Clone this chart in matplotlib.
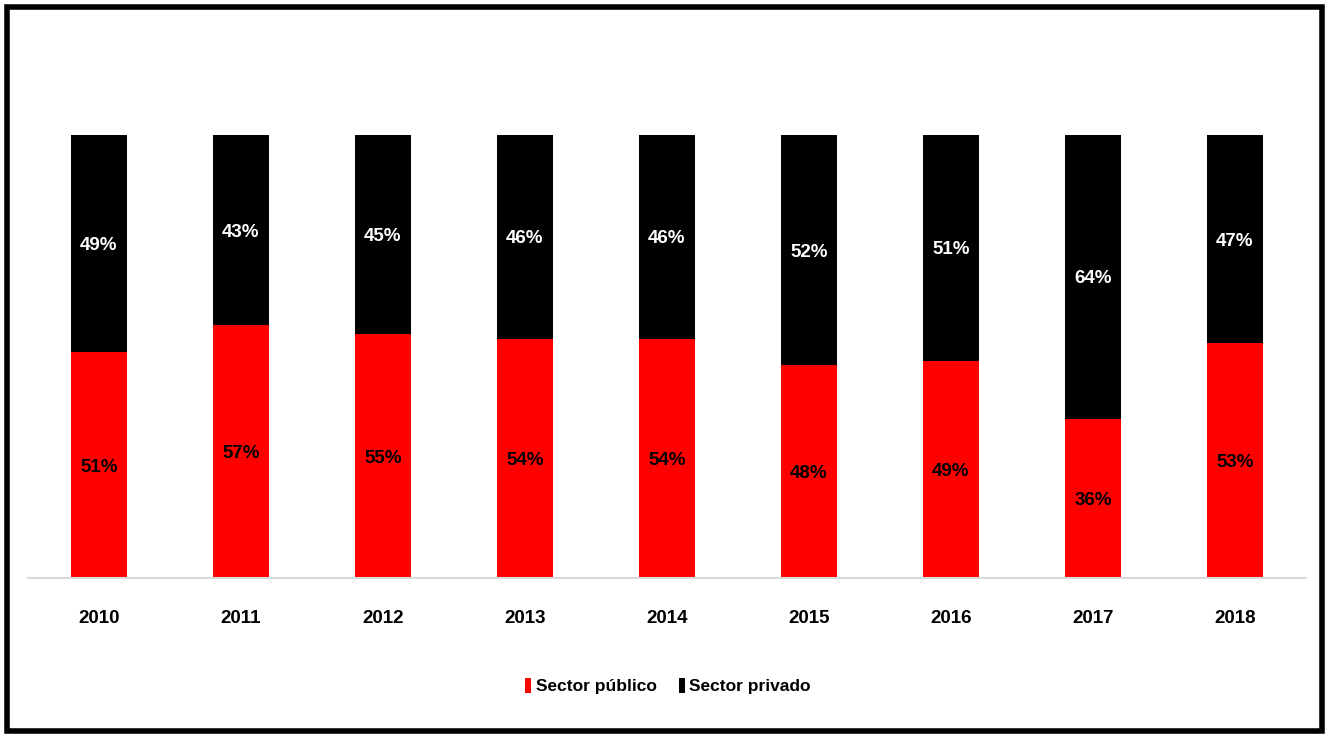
import matplotlib.pyplot as plt
from matplotlib.patches import Rectangle

years = ["2010", "2011", "2012", "2013", "2014", "2015", "2016", "2017", "2018"]
publico = [51, 57, 55, 54, 54, 48, 49, 36, 53]
privado = [49, 43, 45, 46, 46, 52, 51, 64, 47]

plt.rcParams['font.family'] = ['Liberation Sans', 'DejaVu Sans']
plt.rcParams['font.weight'] = 'bold'

W, H = 1328, 736
fig = plt.figure(figsize=(W / 100, H / 100), dpi=100)
ax = fig.add_axes([28 / W, 1 - 578 / H, 1278 / W, 443 / H])

x = list(range(len(years)))
ax.bar(x, publico, width=0.395, color="#ff0000", label="Sector público")
ax.bar(x, privado, width=0.395, bottom=publico, color="black", label="Sector privado")

for i in x:
    ax.text(i, publico[i] / 2, f"{publico[i]}%", ha="center", va="center_baseline",
            color="black", fontsize=13.5, fontweight="bold")
    ax.text(i, publico[i] + privado[i] / 2, f"{privado[i]}%", ha="center", va="center_baseline",
            color="white", fontsize=13.5, fontweight="bold")

ax.set_xlim(-0.5, len(years) - 0.5)
ax.set_ylim(0, 100)
ax.set_xticks(x)
ax.set_xticklabels(years, fontsize=13.5, fontweight="bold")
ax.tick_params(axis="x", length=0, pad=23)
ax.set_yticks([])
for s in ["top", "right", "left"]:
    ax.spines[s].set_visible(False)
ax.spines["bottom"].set_color("#d9d9d9")
ax.spines["bottom"].set_linewidth(1.5)

fig.legend(loc="center", bbox_to_anchor=(668 / W, 1 - 686 / H), ncol=2,
           frameon=False, fontsize=12.5, handlelength=0.35, handleheight=0.95,
           handletextpad=0.25, columnspacing=1.3)

# frame around the whole picture
fig.add_artist(Rectangle((6.5 / W, 5 / H), 1315 / W, 724 / H,
                         transform=fig.transFigure, fill=False,
                         edgecolor="black", linewidth=4))

fig.savefig("out.png", dpi=100)
